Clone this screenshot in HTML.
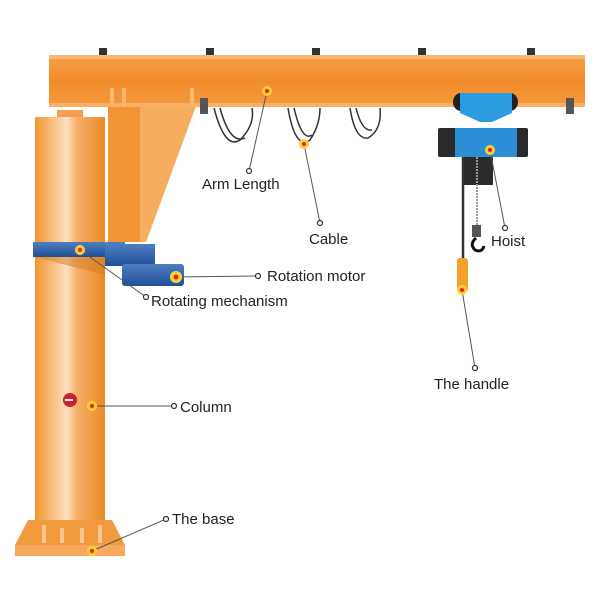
<!DOCTYPE html>
<html><head><meta charset="utf-8"><style>
html,body{margin:0;padding:0;background:#fff;width:600px;height:600px;overflow:hidden}
text{font-family:"Liberation Sans",sans-serif;font-size:15px;fill:#222}
</style></head><body>
<svg width="600" height="600" viewBox="0 0 600 600" xmlns="http://www.w3.org/2000/svg">
<defs>
<linearGradient id="col" x1="0" x2="1" y1="0" y2="0">
<stop offset="0" stop-color="#f0962e"/><stop offset="0.45" stop-color="#fde0bf"/><stop offset="0.6" stop-color="#f7b06a"/><stop offset="1" stop-color="#ea8a22"/></linearGradient>
<linearGradient id="beam" x1="0" x2="0" y1="0" y2="1">
<stop offset="0" stop-color="#f6a04a"/><stop offset="0.5" stop-color="#f28c2a"/><stop offset="1" stop-color="#f49b40"/></linearGradient>
<linearGradient id="blue" x1="0" x2="0" y1="0" y2="1">
<stop offset="0" stop-color="#4f7ec0"/><stop offset="1" stop-color="#1f4f98"/></linearGradient>
<radialGradient id="dot"><stop offset="0.35" stop-color="#e2231a"/><stop offset="0.45" stop-color="#f8c51a"/><stop offset="1" stop-color="#fbd94a"/></radialGradient>
</defs>
<!-- bolts -->
<g fill="#333"><rect x="99" y="48" width="8" height="7"/><rect x="206" y="48" width="8" height="7"/><rect x="312" y="48" width="8" height="7"/><rect x="418" y="48" width="8" height="7"/><rect x="527" y="48" width="8" height="7"/></g>
<!-- bracket -->
<polygon points="108,106 196,106 146,242 108,242" fill="#f39a3a"/>
<polygon points="140,106 196,106 146,242 140,242" fill="#f6ae5e"/>
<rect x="108" y="106" width="32" height="136" fill="#f09434"/>
<!-- beam -->
<rect x="49" y="55" width="536" height="52" fill="url(#beam)"/>
<rect x="49" y="55" width="536" height="4" fill="#f8b870"/>
<rect x="49" y="103" width="536" height="4" fill="#f7b066"/>
<rect x="110" y="88" width="4" height="18" fill="#f8b870"/><rect x="122" y="88" width="4" height="18" fill="#f8b870"/><rect x="190" y="88" width="4" height="18" fill="#f8b870"/>
<!-- end stops -->
<rect x="200" y="98" width="8" height="16" fill="#555"/><rect x="566" y="98" width="8" height="16" fill="#555"/>
<!-- cables -->
<g fill="none" stroke="#333" stroke-width="1.5">
<path d="M214,108 Q225,150 240,140 Q255,125 252,108"/><path d="M220,108 Q230,145 245,138"/>
<path d="M288,108 Q295,150 310,140 Q320,125 320,108"/><path d="M294,108 Q302,142 312,135"/>
<path d="M350,108 Q355,140 368,138 Q382,130 380,108"/><path d="M356,108 Q362,132 372,130"/>
</g>
<!-- column -->
<rect x="57" y="110" width="26" height="8" fill="#f3a050"/>
<rect x="35" y="117" width="70" height="420" fill="url(#col)"/>
<!-- base -->
<polygon points="28,520 112,520 125,545 125,556 15,556 15,545" fill="#f29a3e"/>
<rect x="15" y="545" width="110" height="11" fill="#f5a95c"/>
<g fill="#f8c690"><rect x="42" y="525" width="4" height="18"/><rect x="60" y="528" width="4" height="15"/><rect x="80" y="528" width="4" height="15"/><rect x="98" y="525" width="4" height="18"/></g>
<!-- ring & mechanism -->
<rect x="33" y="242" width="92" height="15" fill="url(#blue)"/>
<rect x="105" y="244" width="50" height="22" fill="url(#blue)"/>
<rect x="122" y="264" width="62" height="22" rx="3" fill="url(#blue)"/>
<polygon points="35,257 105,257 105,275" fill="#d07a20" opacity="0.5"/>
<!-- red button -->
<circle cx="70" cy="400" r="7" fill="#d11f2a"/><rect x="65" y="399" width="8" height="2" fill="#fff"/>
<!-- hoist -->
<ellipse cx="461" cy="102" rx="8" ry="9" fill="#222"/><ellipse cx="510" cy="102" rx="8" ry="9" fill="#222"/>
<polygon points="460,93 512,93 512,113 492,122 480,122 460,113" fill="#2c9be0"/>
<rect x="438" y="128" width="90" height="29" rx="2" fill="#2a2a2a"/>
<rect x="455" y="128" width="62" height="29" fill="#2a8fd6"/>
<rect x="463" y="157" width="30" height="28" fill="#2b2b2b"/>
<line x1="477" y1="157" x2="477" y2="230" stroke="#999" stroke-width="2" stroke-dasharray="2,1"/>
<rect x="472" y="225" width="9" height="12" fill="#555"/>
<path d="M476,238 q-7,6 -1,12 q7,3 9,-4" fill="none" stroke="#111" stroke-width="3"/>
<line x1="463" y1="157" x2="463" y2="260" stroke="#333" stroke-width="2.5"/>
<rect x="457" y="258" width="11" height="34" rx="3" fill="#f5a02a"/>
<!-- leader lines -->
<g stroke="#555" stroke-width="1" fill="none">
<line x1="267" y1="91" x2="249" y2="171"/>
<line x1="304" y1="144" x2="320" y2="223"/>
<line x1="490" y1="150" x2="505" y2="228"/>
<line x1="462" y1="290" x2="475" y2="368"/>
<line x1="176" y1="277" x2="258" y2="276"/>
<line x1="80" y1="250" x2="146" y2="297"/>
<line x1="92" y1="406" x2="174" y2="406"/>
<line x1="92" y1="551" x2="166" y2="519"/>
</g>
<g fill="#fff" stroke="#333" stroke-width="1.2">
<circle cx="249" cy="171" r="2.5"/><circle cx="320" cy="223" r="2.5"/><circle cx="505" cy="228" r="2.5"/><circle cx="475" cy="368" r="2.5"/>
<circle cx="258" cy="276" r="2.5"/><circle cx="146" cy="297" r="2.5"/><circle cx="174" cy="406" r="2.5"/><circle cx="166" cy="519" r="2.5"/>
</g>
<g fill="url(#dot)">
<circle cx="267" cy="91" r="5"/><circle cx="304" cy="144" r="5"/><circle cx="490" cy="150" r="5"/><circle cx="462" cy="290" r="5"/>
<circle cx="176" cy="277" r="6"/><circle cx="80" cy="250" r="5"/><circle cx="92" cy="406" r="5"/><circle cx="92" cy="551" r="5"/>
</g>
<text x="202" y="189">Arm Length</text>
<text x="309" y="244">Cable</text>
<text x="491" y="246">Hoist</text>
<text x="434" y="389">The handle</text>
<text x="267" y="281">Rotation motor</text>
<text x="151" y="306">Rotating mechanism</text>
<text x="180" y="412">Column</text>
<text x="172" y="524">The base</text>
</svg>
</body></html>
